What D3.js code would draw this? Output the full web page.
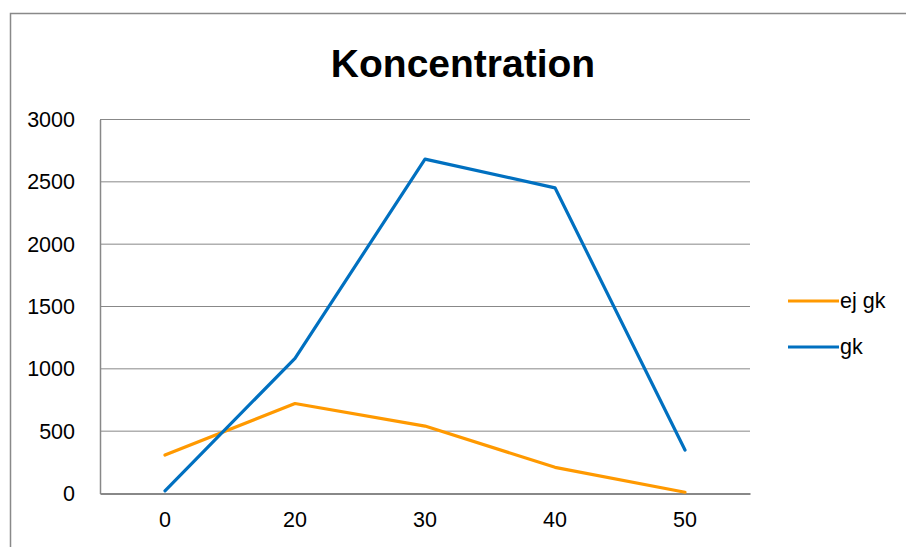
<!DOCTYPE html>
<meta charset="utf-8">
<script src="https://d3js.org/d3.v7.min.js"></script>
<style>
body { margin: 0; background: #fff; }
text { font-family: "Liberation Sans", Arial, sans-serif; fill: #000; }
</style>
<div id="chart"></div>
<script>

// data
var categories = ["0", "20", "30", "40", "50"];
var ejGk = [308, 722, 541, 210, 10];
var gk = [22, 1084, 2682, 2452, 349];
var yTicks = [0, 500, 1000, 1500, 2000, 2500, 3000];
var seriesNames = ["ej gk", "gk"];
var seriesColors = ["#ff9900", "#0070c0"];

var W = 906, H = 547;
var margin = {top: 119.5, right: 156, bottom: 53.5, left: 100};
var width = W - margin.left - margin.right,
    height = H - margin.top - margin.bottom;

var svg = d3.select("#chart").append("svg")
  .attr("width", W)
  .attr("height", H);

// chart border (top and left visible)
svg.append("path")
  .attr("d", "M10.5," + H + "V13.5H" + W)
  .attr("fill", "none")
  .attr("stroke", "#898989")
  .attr("stroke-width", 1.5);

// title
svg.append("text")
  .attr("x", 463)
  .attr("y", 77)
  .attr("text-anchor", "middle")
  .style("font-size", "39px")
  .style("font-weight", "bold")
  .text("Koncentration");

var g = svg.append("g")
  .attr("transform", "translate(" + margin.left + "," + margin.top + ")");

var x = d3.scaleBand()
  .domain(categories)
  .range([0, width]);

var y = d3.scaleLinear()
  .domain([0, 3000])
  .range([height, 0]);

// gridlines
g.selectAll(".grid")
  .data(yTicks.filter(function(d) { return d > 0; }))
  .enter().append("line")
    .attr("x1", 0)
    .attr("x2", width)
    .attr("y1", function(d) { return y(d); })
    .attr("y2", function(d) { return y(d); })
    .attr("stroke", "#888")
    .attr("stroke-width", 1);

// y axis
var yAxis = g.append("g")
  .call(d3.axisLeft(y).tickValues(yTicks).tickFormat(d3.format("d")).tickSize(0).tickPadding(25));
yAxis.select(".domain").attr("stroke", "#888").attr("stroke-width", 1.5);
yAxis.selectAll("text").style("font-size", "21.5px");

// x axis
var xAxis = g.append("g")
  .attr("transform", "translate(0," + height + ")")
  .call(d3.axisBottom(x).tickSize(0).tickPadding(18));
xAxis.select(".domain").attr("stroke", "#888").attr("stroke-width", 2);
xAxis.selectAll("text").style("font-size", "21.5px");

// lines
var line = d3.line()
  .x(function(d, i) { return x(categories[i]) + x.bandwidth() / 2; })
  .y(function(d) { return y(d); });

[ejGk, gk].forEach(function(s, k) {
  g.append("path")
    .datum(s)
    .attr("fill", "none")
    .attr("stroke", seriesColors[k])
    .attr("stroke-width", 3.2)
    .attr("stroke-linejoin", "round")
    .attr("stroke-linecap", "round")
    .attr("d", line);
});

// legend
var legend = svg.append("g");
seriesNames.forEach(function(name, k) {
  var ly = 301 + k * 46;
  legend.append("line")
    .attr("x1", 788).attr("x2", 839)
    .attr("y1", ly).attr("y2", ly)
    .attr("stroke", seriesColors[k])
    .attr("stroke-width", 3.2);
  legend.append("text")
    .attr("x", 840)
    .attr("y", ly + 7)
    .style("font-size", "21.5px")
    .text(name);
});

</script>
